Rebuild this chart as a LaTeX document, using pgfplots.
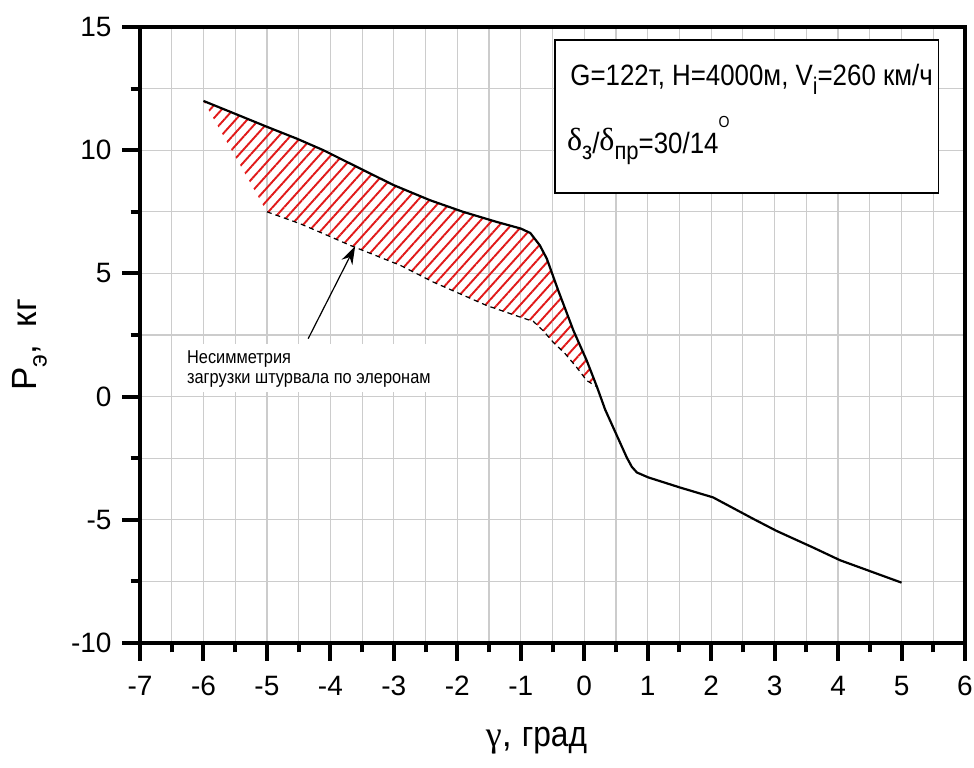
\documentclass[border=0pt]{standalone}
\usepackage{fontspec}
\setmainfont{Liberation Sans}
\newfontfamily\cond{Liberation Sans}[FakeStretch=0.88]
\newfontfamily\grk{Liberation Serif}
\usepackage{pgfplots}
\pgfplotsset{compat=1.18}
\usetikzlibrary{patterns.meta,calc,arrows.meta}
\definecolor{hatchred}{RGB}{225,25,25}
\begin{document}
\begin{tikzpicture}
\begin{axis}[
  scale only axis, width=412.5pt, height=308pt,
  xmin=-7, xmax=6, ymin=-10, ymax=15,
  xtick={-7,-6,...,6}, ytick={-10,-5,...,15},
  minor x tick num=1, minor y tick num=1,
  grid=both,
  major grid style={draw=black!20, line width=0.6pt},
  minor grid style={draw=black!20, line width=0.6pt},
  axis line style={line width=2pt},
  tick pos=left, tick align=outside,
  major tick length=8.8pt, minor tick length=4.7pt,
  tick style={draw=black, line width=2pt},
  ticklabel style={font=\fontsize{14}{14}\selectfont},
  xticklabel style={yshift=-4.2pt},
  yticklabel style={xshift=-1.9pt},
  /pgf/number format/assume math mode=true,
  xlabel={{\grk γ}, {\cond град}},
  ylabel={P\raisebox{-0.3em}{\fontsize{12.5}{12.5}\selectfont э},\hspace{9pt}кг},
  xlabel style={at={(axis description cs:0.4806,-0.1593)}, anchor=center, font=\fontsize{18}{18}\selectfont},
  ylabel style={at={(axis description cs:-0.134,0.4837)}, anchor=center, rotate=0, font=\fontsize{17.5}{17.5}\selectfont},
]
% hatched region
\addplot[draw=none, pattern={Lines[angle=48, distance=4.3pt, line width=0.95pt]}, pattern color=hatchred] coordinates {
(-6,12.0) (-5.58,11.56) (-5,10.95) (-4.53,10.47) (-4.11,10.0) (-3.48,9.19) (-3,8.58) (-2.43,7.97) (-1.91,7.5) (-1.38,7.09) (-1.0,6.82) (-0.85,6.64) (-0.7,6.14) (-0.59,5.6) (-0.41,4.31) (-0.17,2.68) (0.04,1.46) (0.2,0.4)
(0.04,0.65) (-0.12,1.19) (-0.3,1.74) (-0.49,2.21) (-0.65,2.68) (-0.8,3.05) (-1.0,3.22) (-1.54,3.7) (-2.38,4.65) (-2.9,5.33) (-3.69,6.14) (-4,6.49) (-4.48,7.02) (-5,7.5) (-6,12.0)
};
% lower dashed boundary
\addplot[black, line width=0.6pt, dash pattern=on 2.5pt off 2pt] coordinates {
(-5,7.5) (-4.48,7.02) (-4,6.49) (-3.69,6.14) (-2.9,5.33) (-2.38,4.65) (-1.54,3.7) (-1.0,3.22) (-0.8,3.05) (-0.65,2.68) (-0.49,2.21) (-0.3,1.74) (-0.12,1.19) (0.04,0.65) (0.2,0.4)
};
% main curve
\addplot[black, line width=1.1pt] coordinates {
(-6,12.0) (-5.58,11.56) (-5,10.95) (-4.53,10.47) (-4.11,10.0) (-3.48,9.19) (-3,8.58) (-2.43,7.97) (-1.91,7.5) (-1.38,7.09) (-1.0,6.82) (-0.85,6.64) (-0.7,6.14) (-0.59,5.6) (-0.41,4.31) (-0.17,2.68) (0.04,1.46) (0.2,0.4) (0.33,-0.53) (0.5,-1.5) (0.67,-2.47) (0.75,-2.85) (0.83,-3.08) (1.01,-3.28) (1.51,-3.69) (2.03,-4.09) (2.67,-4.97) (3.03,-5.45) (3.61,-6.13) (4.03,-6.64) (5.0,-7.55)
};
% annotation
\fill[white] (axis cs:-6.5,0.175) rectangle (axis cs:-2.036,2.14);
\node[anchor=base west, inner sep=0, font=\cond\fontsize{9.3}{9.3}\selectfont] at (axis cs:-6.264,1.35) {Несимметрия};
\node[anchor=base west, inner sep=0, font=\cond\fontsize{9.3}{9.3}\selectfont] at (axis cs:-6.264,0.516) {загрузки штурвала по элеронам};
\draw[-{Stealth[length=9pt,width=6pt]}, line width=0.6pt] (axis cs:-4.35,2.35) -- (axis cs:-3.61,6.1);
% info box
\draw[fill=white, line width=0.7pt] (axis cs:-0.46,8.26) rectangle (axis cs:5.58,14.47);
\node[anchor=base west, inner sep=0, font=\cond\fontsize{14.7}{14.7}\selectfont] at (axis cs:-0.224,12.64) {G=122т, H=4000м, V\raisebox{-4.5pt}{\fontsize{12}{12}\selectfont i}=260 км/ч};
\node[anchor=base west, inner sep=0, font=\cond\fontsize{14.7}{14.7}\selectfont] at (axis cs:-0.276,9.88) {{\grk\fontsize{16}{16}\selectfont\raisebox{1.5pt}{δ}}\raisebox{-3pt}{\fontsize{12.5}{12.5}\selectfont з}/{\grk\fontsize{16}{16}\selectfont\raisebox{1.5pt}{δ}}\raisebox{-3pt}{\fontsize{12.5}{12.5}\selectfont пр}=30/14\raisebox{13pt}{\fontsize{8}{8}\selectfont O}};
\coordinate (bl) at (rel axis cs:0,0);
\coordinate (tr) at (rel axis cs:1,1);
\end{axis}
\pgfresetboundingbox
\path[use as bounding box] ($(bl)+(-70pt,-62pt)$) rectangle ($(tr)+(4.5pt,13.5pt)$);
\end{tikzpicture}
\end{document}
